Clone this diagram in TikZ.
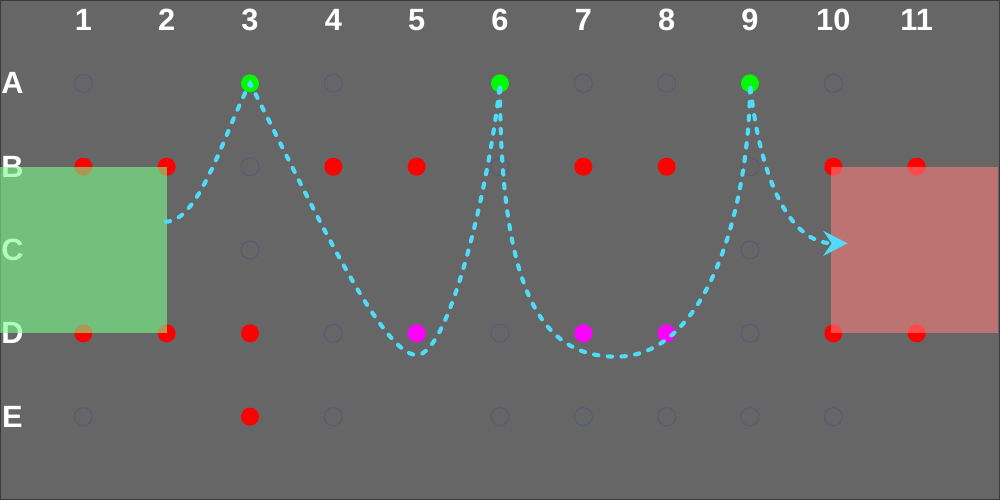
\documentclass[tikz,border=0pt]{standalone}
\usepackage{fontspec}
\setmainfont{Liberation Sans}
\usetikzlibrary{arrows.meta}

\definecolor{bggray}{RGB}{102,102,102}
\definecolor{edgegray}{RGB}{58,58,58}
\definecolor{holegray}{RGB}{84,90,120}
\definecolor{trailcyan}{RGB}{80,220,248}
\definecolor{startgreen}{RGB}{122,252,139}
\definecolor{goalred}{RGB}{250,124,124}
\definecolor{walkgreen}{RGB}{0,250,0}
\definecolor{landpink}{RGB}{255,0,255}
\definecolor{blockred}{RGB}{255,0,0}

\begin{document}
\begin{tikzpicture}[
  gridpt/.style={circle,inner sep=0pt,minimum size=0.216cm},
  reddot/.style={gridpt,fill=blockred},
  greendot/.style={gridpt,fill=walkgreen},
  pinkdot/.style={gridpt,fill=landpink},
  hole/.style={gridpt,draw=holegray,line width=0.3pt},
  lab/.style={text=white,inner sep=0pt,font=\fontsize{10.5}{12}\selectfont\bfseries},
  trail/.style={draw=trailcyan,line width=1.4pt,line cap=round,dash pattern=on 1.5pt off 3.2pt}
]
\useasboundingbox (0,0) rectangle (12,-6);
\fill[bggray] (0,0) rectangle (12,-6);
\draw[edgegray,line width=0.6pt] (0,0) rectangle (12,-6);

% Column and row labels
\node[lab] (n1) at (1,-0.24) {1};
\node[lab] (n2) at (2,-0.24) {2};
\node[lab] (n3) at (3,-0.24) {3};
\node[lab] (n4) at (4,-0.24) {4};
\node[lab] (n5) at (5,-0.24) {5};
\node[lab] (n6) at (6,-0.24) {6};
\node[lab] (n7) at (7,-0.24) {7};
\node[lab] (n8) at (8,-0.24) {8};
\node[lab] (n9) at (9,-0.24) {9};
\node[lab] (n10) at (10,-0.24) {10};
\node[lab] (n11) at (11,-0.24) {11};

\node[lab] (ra) at (0.15,-1) {A};
\node[lab] (rb) at (0.15,-2) {B};
\node[lab] (rc) at (0.15,-3) {C};
\node[lab] (rd) at (0.15,-4) {D};
\node[lab] (re) at (0.15,-5) {E};

% Row A
\node[hole] (a1) at (1,-1) {};
\node[greendot] (a3) at (3,-1) {};
\node[hole] (a4) at (4,-1) {};
\node[greendot] (a6) at (6,-1) {};
\node[hole] (a7) at (7,-1) {};
\node[hole] (a8) at (8,-1) {};
\node[greendot] (a9) at (9,-1) {};
\node[hole] (a10) at (10,-1) {};

% Row B
\node[reddot] (b1) at (1,-2) {};
\node[reddot] (b2) at (2,-2) {};
\node[hole] (b3) at (3,-2) {};
\node[reddot] (b4) at (4,-2) {};
\node[reddot] (b5) at (5,-2) {};
\node[hole] (b6) at (6,-2) {};
\node[reddot] (b7) at (7,-2) {};
\node[reddot] (b8) at (8,-2) {};
\node[hole] (b9) at (9,-2) {};
\node[reddot] (b10) at (10,-2) {};
\node[reddot] (b11) at (11,-2) {};

% Row C
\node[hole] (c3) at (3,-3) {};
\node[hole] (c9) at (9,-3) {};

% Row D
\node[reddot] (d1) at (1,-4) {};
\node[reddot] (d2) at (2,-4) {};
\node[reddot] (d3) at (3,-4) {};
\node[hole] (d4) at (4,-4) {};
\node[pinkdot] (d5) at (5,-4) {};
\node[hole] (d6) at (6,-4) {};
\node[pinkdot] (d7) at (7,-4) {};
\node[pinkdot] (d8) at (8,-4) {};
\node[hole] (d9) at (9,-4) {};
\node[reddot] (d10) at (10,-4) {};
\node[reddot] (d11) at (11,-4) {};

% Row E
\node[hole] (e1) at (1,-5) {};
\node[reddot] (e3) at (3,-5) {};
\node[hole] (e4) at (4,-5) {};
\node[hole] (e6) at (6,-5) {};
\node[hole] (e7) at (7,-5) {};
\node[hole] (e8) at (8,-5) {};
\node[hole] (e9) at (9,-5) {};
\node[hole] (e10) at (10,-5) {};

% Start and goal areas
\fill[startgreen,fill opacity=0.6] (0,-2) rectangle (2,-4);
\fill[goalred,fill opacity=0.6] (9.97,-2) rectangle (11.98,-4);

\coordinate (start) at (1.99,-2.66);
\coordinate (low1) at (5.00,-4.26);
\coordinate (low2) at (7.40,-4.28);
\coordinate (finish) at (10.17,-2.92);

% Jumping path
\draw[trail,-{Stealth[length=8.2pt,width=8.4pt,inset=2.8pt]}]
  (start) .. controls (2.40,-2.66) and (2.70,-1.56) .. (a3.center)
  .. controls (3.66,-2.28) and (4.56,-4.26) .. (low1)
  .. controls (5.40,-4.26) and (5.88,-2.16) .. (a6.center)
  .. controls (6.00,-3.60) and (6.54,-4.28) .. (low2)
  .. controls (8.52,-4.28) and (9.00,-2.40) .. (a9.center)
  .. controls (9.12,-2.16) and (9.48,-2.92) .. (finish);

\end{tikzpicture}
\end{document}
